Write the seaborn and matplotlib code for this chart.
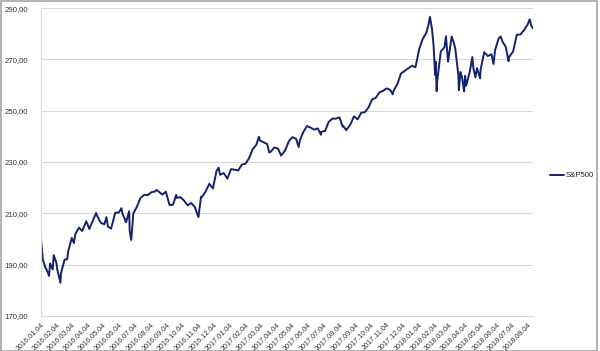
import pandas as pd
import matplotlib
matplotlib.use("Agg")
import matplotlib.pyplot as plt
import seaborn as sns
from matplotlib.lines import Line2D

# Dados (fecho aproximado)
DATAS = [
    "2016-01-04", "2016-01-08", "2016-01-13", "2016-01-15", "2016-01-20", "2016-01-22",
    "2016-01-27", "2016-01-29", "2016-02-03", "2016-02-05", "2016-02-11", "2016-02-12",
    "2016-02-19", "2016-02-24", "2016-02-26", "2016-03-04", "2016-03-08", "2016-03-11",
    "2016-03-18", "2016-03-24", "2016-04-01", "2016-04-07", "2016-04-08", "2016-04-15",
    "2016-04-20", "2016-04-22", "2016-04-29", "2016-05-06", "2016-05-10", "2016-05-13",
    "2016-05-19", "2016-05-27", "2016-06-03", "2016-06-08", "2016-06-10", "2016-06-16",
    "2016-06-17", "2016-06-23", "2016-06-24", "2016-06-27", "2016-07-01", "2016-07-08",
    "2016-07-15", "2016-07-22", "2016-07-29", "2016-08-05", "2016-08-12", "2016-08-15",
    "2016-08-19", "2016-08-26", "2016-09-02", "2016-09-09", "2016-09-13", "2016-09-16",
    "2016-09-22", "2016-09-23", "2016-09-30", "2016-10-07", "2016-10-14", "2016-10-21",
    "2016-10-28", "2016-11-04", "2016-11-09", "2016-11-11", "2016-11-18", "2016-11-25",
    "2016-12-02", "2016-12-09", "2016-12-13", "2016-12-16", "2016-12-23", "2016-12-30",
    "2017-01-06", "2017-01-13", "2017-01-20", "2017-01-27", "2017-02-03", "2017-02-10",
    "2017-02-17", "2017-02-24", "2017-03-01", "2017-03-03", "2017-03-10", "2017-03-17",
    "2017-03-21", "2017-03-24", "2017-03-31", "2017-04-07", "2017-04-13", "2017-04-21",
    "2017-04-28", "2017-05-05", "2017-05-12", "2017-05-17", "2017-05-19", "2017-05-26",
    "2017-06-02", "2017-06-09", "2017-06-16", "2017-06-23", "2017-06-29", "2017-06-30",
    "2017-07-07", "2017-07-14", "2017-07-21", "2017-07-28", "2017-08-04", "2017-08-10",
    "2017-08-11", "2017-08-17", "2017-08-18", "2017-08-25", "2017-09-01", "2017-09-08",
    "2017-09-15", "2017-09-22", "2017-09-29", "2017-10-06", "2017-10-13", "2017-10-20",
    "2017-10-27", "2017-11-03", "2017-11-10", "2017-11-15", "2017-11-17", "2017-11-24",
    "2017-12-01", "2017-12-08", "2017-12-15", "2017-12-22", "2017-12-29", "2018-01-05",
    "2018-01-12", "2018-01-19", "2018-01-23", "2018-01-26", "2018-01-30", "2018-02-02",
    "2018-02-05", "2018-02-06", "2018-02-08", "2018-02-09", "2018-02-16", "2018-02-23",
    "2018-02-26", "2018-03-02", "2018-03-09", "2018-03-13", "2018-03-16", "2018-03-22",
    "2018-03-23", "2018-03-26", "2018-03-29", "2018-04-02", "2018-04-04", "2018-04-06",
    "2018-04-13", "2018-04-18", "2018-04-20", "2018-04-24", "2018-04-27", "2018-05-03",
    "2018-05-04", "2018-05-11", "2018-05-18", "2018-05-25", "2018-05-29", "2018-06-01",
    "2018-06-08", "2018-06-12", "2018-06-15", "2018-06-22", "2018-06-27", "2018-06-28",
    "2018-07-06", "2018-07-13", "2018-07-20", "2018-07-27", "2018-08-03", "2018-08-07",
    "2018-08-10", "2018-08-13",
]
VALORES = [
    201.0, 191.9, 188.8, 188.1, 185.6, 190.5,
    188.1, 193.7, 190.8, 188.0, 182.9, 186.6,
    191.9, 192.1, 195.1, 200.4, 198.4, 202.0,
    204.4, 203.1, 206.9, 203.9, 204.5, 207.8,
    210.1, 209.0, 206.3, 205.7, 208.5, 204.8,
    204.0, 210.2, 210.3, 212.0, 209.9, 207.0,
    206.5, 210.8, 203.2, 199.6, 209.9, 212.6,
    216.0, 217.2, 217.1, 218.2, 218.5, 219.1,
    218.5, 217.3, 218.4, 213.3, 213.2, 213.4,
    217.2, 216.0, 216.3, 215.0, 213.1, 214.0,
    212.5, 208.5, 216.4, 216.4, 218.5, 221.5,
    219.7, 226.5, 227.8, 225.0, 225.7, 223.5,
    227.2, 227.0, 226.7, 229.0, 229.3, 231.5,
    235.0, 236.7, 239.8, 238.4, 237.7, 237.0,
    233.7, 234.0, 235.7, 235.2, 232.5, 234.6,
    238.1, 239.7, 239.0, 235.8, 238.3, 241.7,
    244.0, 243.4, 242.6, 243.1, 240.6, 241.8,
    242.1, 245.6, 246.9, 246.9, 247.4, 243.8,
    244.1, 242.4, 242.7, 244.6, 247.8, 246.6,
    249.2, 249.4, 251.2, 254.4, 255.0, 257.1,
    257.7, 258.7, 258.1, 256.4, 257.9, 260.4,
    264.5, 265.5, 266.5, 267.5, 266.9, 273.9,
    278.0, 280.4, 283.3, 286.6, 281.8, 275.4,
    263.9, 269.1, 257.6, 261.5, 273.1, 274.7,
    279.0, 269.1, 278.9, 276.6, 274.2, 263.7,
    258.0, 265.1, 263.1, 257.5, 263.6, 259.7,
    265.1, 270.9, 266.6, 263.0, 266.6, 262.6,
    266.0, 272.8, 271.3, 272.0, 268.2, 273.6,
    278.2, 278.9, 277.1, 274.7, 269.3, 270.9,
    273.1, 279.6, 279.7, 281.4, 283.6, 285.6,
    283.2, 282.1,
]
SERIE = "S&P500"
Y_TICKS = [170, 190, 210, 230, 250, 270, 290]

COR_LINHA = "#13226b"
COR_GRELHA = "#d9d9d9"
COR_TEXTO = "#333333"


def main():
    df = pd.DataFrame({"data": pd.to_datetime(DATAS), "valor": VALORES})

    sns.set_theme(style="white")
    plt.rcParams["font.family"] = ["Liberation Sans", "DejaVu Sans"]

    fig = plt.figure(figsize=(6, 3.51), dpi=100)
    ax = fig.add_axes([0.068, 0.1, 0.82, 0.877])

    sns.lineplot(data=df, x="data", y="valor", ax=ax, color=COR_LINHA, linewidth=1.4)

    # Eixo Y
    ax.set_ylim(170, 290)
    ax.set_yticks(Y_TICKS)
    ax.set_yticklabels([f"{v:.2f}".replace(".", ",") for v in Y_TICKS], fontsize=5.6, color=COR_TEXTO)
    ax.yaxis.grid(True, color=COR_GRELHA, linewidth=0.8)
    ax.tick_params(axis="y", length=0, pad=9)

    # Eixo X mensal no dia 4
    inicio = pd.Timestamp("2016-01-04")
    ticks_x = pd.date_range(inicio, "2018-08-04", freq=pd.DateOffset(months=1))
    ax.set_xlim(inicio, df["data"].iloc[-1])
    ax.set_xticks(ticks_x)
    ax.set_xticklabels([t.strftime("%Y.%m.%d") for t in ticks_x], rotation=45, ha="right",
                       rotation_mode="anchor", fontsize=5.2, color=COR_TEXTO)
    ax.tick_params(axis="x", length=3, color=COR_GRELHA, width=0.8, pad=1)

    ax.set_xlabel("")
    ax.set_ylabel("")

    for lado in ["top", "right"]:
        ax.spines[lado].set_visible(False)
    for lado in ["left", "bottom"]:
        ax.spines[lado].set_color(COR_GRELHA)
        ax.spines[lado].set_linewidth(0.8)

    # Legenda à direita
    handle = Line2D([0], [0], color=COR_LINHA, lw=1.4, label=SERIE)
    fig.legend(handles=[handle], loc="center left", bbox_to_anchor=(0.912, 0.5),
               frameon=False, fontsize=5.6, handlelength=1.8, handletextpad=0.2,
               borderaxespad=0)

    # Moldura da área do gráfico
    fig.patches.append(plt.Rectangle((0.001, 0.001), 0.994, 0.996, transform=fig.transFigure,
                                     fill=False, edgecolor="#a6a6a6", linewidth=1.2))

    fig.savefig("out.png", dpi=100)


if __name__ == "__main__":
    main()
